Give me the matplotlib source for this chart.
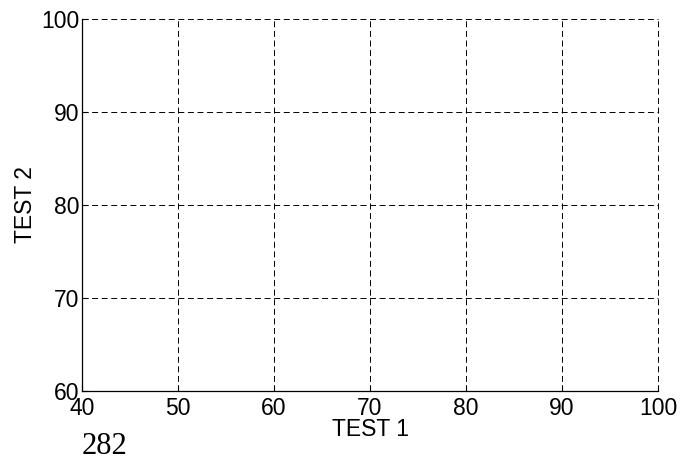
import matplotlib
matplotlib.use('Agg')
import matplotlib.pyplot as plt

x_ticks = [40, 50, 60, 70, 80, 90, 100]
y_ticks = [60, 70, 80, 90, 100]
x_label = 'TEST 1'
y_label = 'TEST 2'
page_number = '282'

plt.rcParams['font.family'] = ['Liberation Sans', 'DejaVu Sans']
plt.rcParams['lines.scale_dashes'] = False

fig = plt.figure(figsize=(6.89, 4.58), dpi=100)
ax = fig.add_axes([82 / 689, 1 - 391 / 458, (658 - 82) / 689, (391 - 19) / 458])

ax.set_xlim(x_ticks[0], x_ticks[-1])
ax.set_ylim(y_ticks[0], y_ticks[-1])
ax.set_xticks(x_ticks)
ax.set_yticks(y_ticks)
ax.tick_params(direction='in', length=4, width=0.8, labelsize=16.5)
ax.tick_params(axis='x', pad=4)
ax.tick_params(axis='y', pad=2)

ax.spines['top'].set_visible(False)
ax.spines['right'].set_visible(False)
ax.spines['left'].set_linewidth(0.9)
ax.spines['bottom'].set_linewidth(0.9)

# dashed grid, also on the limit lines (x=100, y=100)
ax.grid(True, color='black', linestyle=(0, (4.3, 2.6)), linewidth=0.7)
for line in ax.get_xgridlines() + ax.get_ygridlines():
    line.set_clip_on(False)
for spine in ax.spines.values():
    spine.set_zorder(3)
ax.set_axisbelow(True)

ax.set_xlabel(x_label, fontsize=16.5)
ax.set_ylabel(y_label, fontsize=16.5)
ax.xaxis.set_label_coords(0.5, -(418 - 391) / 372)
ax.yaxis.set_label_coords((37 - 82) / 576, 0.5)

fig.text(82 / 689, 1 - 454 / 458, page_number, family='Liberation Serif', fontsize=22,
         ha='left', va='baseline')

fig.savefig('out.png', dpi=100)
